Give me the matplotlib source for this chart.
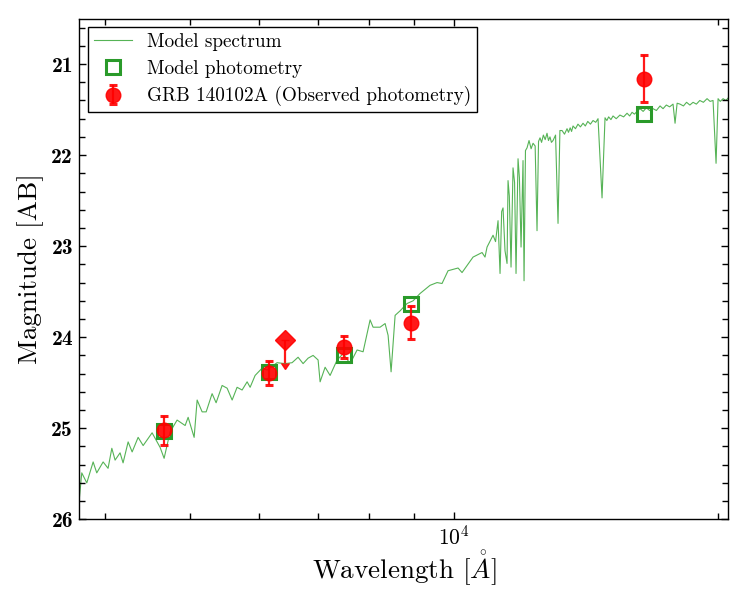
import matplotlib
matplotlib.use("Agg")
import numpy as np
import matplotlib.pyplot as plt
from matplotlib import ticker

plt.rcParams.update({
    "font.family": "serif",
    "font.serif": ["cmr10"],
    "mathtext.fontset": "cm",
    "axes.formatter.use_mathtext": True,
    "axes.unicode_minus": False,
})

# ---- Model spectrum (wavelength in Angstrom, AB magnitude) ----
spec_wave = [3745, 3767, 3817, 3881, 3918, 3984, 4036, 4076, 4111, 4165,
             4198, 4254, 4299, 4367, 4425, 4530, 4566, 4626, 4675, 4749,
             4837, 4940, 4979, 5058, 5098, 5165, 5220, 5302, 5358, 5443,
             5515, 5588, 5661, 5736, 5812, 5858, 5935, 6045, 6125, 6287,
             6420, 6539, 6643, 6731, 6820, 6910, 7001, 7038, 7131, 7225,
             7359, 7476, 7614, 7755, 7878, 8024, 8087, 8237, 8346, 8412,
             8478, 8568, 8681, 8841, 8982, 9147, 9390, 9564, 9690, 9844,
             10106, 10212, 10511, 10762, 10846, 10904, 11077, 11150, 11223, 11282,
             11330, 11371, 11430, 11491, 11521, 11560, 11612, 11673, 11720, 11765,
             11827, 11870, 11921, 11983, 12015, 12060, 12110, 12173, 12240, 12302,
             12370, 12431, 12480, 12529, 12580, 12640, 12700, 12761, 12810, 12860,
             12910, 12964, 13050, 13135, 13200, 13274, 13360, 13449, 13500, 13560,
             13610, 13662, 13750, 13840, 13930, 14025, 14110, 14200, 14300, 14398,
             14500, 14588, 14742, 14858, 14930, 15000, 15090, 15173, 15300, 15450,
             15600, 15741, 15850, 15950, 16050, 16159, 16287, 16420, 16560, 16700,
             16852, 17000, 17164, 17300, 17450, 17600, 17759, 17853, 17950, 18088,
             18250, 18400, 18560, 18717, 18880, 19050, 19230, 19416, 19570, 19724,
             19880, 19985, 20100, 20250, 20400, 20532]
spec_mag = [25.75, 25.49, 25.60, 25.37, 25.49, 25.37, 25.44, 25.22, 25.35, 25.27,
            25.38, 25.15, 25.26, 25.10, 25.19, 25.05, 25.11, 25.21, 25.33, 25.04,
            24.91, 24.97, 24.88, 25.10, 24.69, 24.82, 24.82, 24.62, 24.72, 24.53,
            24.56, 24.69, 24.55, 24.58, 24.49, 24.55, 24.42, 24.34, 24.36, 24.28,
            24.29, 24.28, 24.22, 24.29, 24.23, 24.20, 24.25, 24.49, 24.33, 24.42,
            24.25, 24.18, 24.29, 24.14, 24.16, 23.81, 23.89, 23.89, 23.85, 23.98,
            24.38, 23.76, 23.71, 23.63, 23.60, 23.52, 23.43, 23.40, 23.41, 23.27,
            23.24, 23.29, 23.12, 23.07, 23.12, 23.01, 22.88, 22.95, 22.72, 23.30,
            22.62, 22.58, 23.05, 23.19, 22.28, 22.45, 23.23, 22.14, 22.30, 23.30,
            22.04, 22.25, 23.01, 22.06, 23.38, 21.95, 21.92, 21.84, 21.93, 21.87,
            21.90, 22.83, 21.85, 21.81, 21.86, 21.78, 21.83, 21.76, 21.84, 21.80,
            21.86, 21.84, 21.78, 22.75, 21.73, 21.73, 21.77, 21.71, 21.75, 21.70,
            21.74, 21.68, 21.71, 21.66, 21.69, 21.65, 21.68, 21.63, 21.66, 21.62,
            21.64, 21.60, 22.47, 21.59, 21.62, 21.58, 21.61, 21.57, 21.60, 21.56,
            21.58, 21.54, 21.57, 21.53, 21.55, 21.52, 21.49, 21.52, 21.48, 21.51,
            21.49, 21.51, 21.46, 21.49, 21.45, 21.47, 21.44, 21.65, 21.43, 21.44,
            21.46, 21.42, 21.45, 21.42, 21.44, 21.40, 21.42, 21.38, 21.41, 21.40,
            22.09, 21.38, 21.41, 21.38, 21.40, 21.37]

# ---- Model photometry ----
model_wave = [4677, 6162, 7495, 8934, 16459]
model_mag = [25.03, 24.38, 24.19, 23.63, 21.55]

# ---- Observed photometry (GRB 140102A) ----
obs_wave = [4677, 6162, 7495, 8934, 16459]
obs_mag = [25.02, 24.39, 24.11, 23.84, 21.16]
obs_err = [0.16, 0.13, 0.12, 0.18, 0.26]

# ---- Upper limit ----
lim_wave = [6420]
lim_mag = [24.03]
lim_len = [0.25]

fig = plt.figure(figsize=(7.47, 5.98), dpi=100)
ax = fig.add_axes([0.1062, 0.1316, 0.975 - 0.1062, 0.969 - 0.1316])
ax.set_xscale("log")
ax.set_xlim(3743, 20530)
ax.set_ylim(26, 20.5)

spec_line, = ax.plot(spec_wave, spec_mag, color="#2ca02c", lw=0.8, alpha=0.8,
                     zorder=1, label="Model spectrum")
mod, = ax.plot(model_wave, model_mag, ls="none", marker="s", ms=9.5,
               mfc="none", mec="#2a9a2a", mew=2.2, zorder=2,
               label="Model photometry")
obs = ax.errorbar(obs_wave, obs_mag, yerr=obs_err, fmt="o", color="red",
                  ms=10.5, elinewidth=1.6, capsize=2.6, capthick=2.2,
                  alpha=0.9, zorder=3,
                  label="GRB 140102A (Observed photometry)")
ax.errorbar(lim_wave, lim_mag, yerr=lim_len, lolims=True, fmt="D",
            color="red", ms=10.5, elinewidth=1.6, capsize=3, alpha=0.9,
            zorder=3)

ax.xaxis.set_major_locator(ticker.LogLocator(base=10))
ax.xaxis.set_major_formatter(ticker.FuncFormatter(
    lambda v, p: r"$\mathbf{10^{%d}}$" % round(np.log10(v))))
ax.xaxis.set_minor_locator(ticker.LogLocator(base=10, subs=range(2, 10)))
ax.xaxis.set_minor_formatter(ticker.NullFormatter())
ax.yaxis.set_major_locator(ticker.MultipleLocator(1))
ax.yaxis.set_minor_locator(ticker.MultipleLocator(0.2))
ax.yaxis.set_major_formatter(ticker.FuncFormatter(lambda v, p: f"{v:.0f}"))

ax.tick_params(which="both", direction="in", top=True, right=True, width=1.0)
ax.tick_params(which="major", length=5, labelsize=15.5)
ax.tick_params(which="minor", length=4)
ax.tick_params(axis="y", which="major", labelfontfamily="cmb10", pad=4.5)
ax.tick_params(axis="x", which="major", pad=3.5)
for s in ax.spines.values():
    s.set_linewidth(1.0)

ax.set_xlabel(r"Wavelength [$\mathring{A}$]", fontsize=19.5, labelpad=0)
ax.set_ylabel("Magnitude [AB]", fontsize=19.5, labelpad=5)

leg = ax.legend(handles=[spec_line, mod, obs], loc="upper left",
                fontsize=13.8, frameon=True, fancybox=False,
                edgecolor="black", framealpha=1, borderaxespad=0.45,
                handlelength=2.0, borderpad=0.3, labelspacing=0.45)
leg.get_frame().set_linewidth(1.0)

fig.savefig("out.png", dpi=100)
